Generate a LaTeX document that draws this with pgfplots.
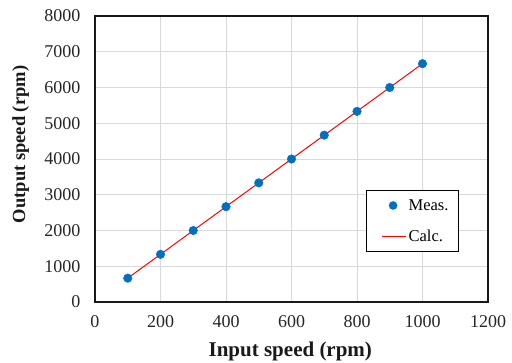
\documentclass[border=0pt]{standalone}
\usepackage{pgfplots}
\pgfplotsset{compat=1.18}
\usepackage{fontspec}
\setmainfont{Liberation Serif}
\definecolor{mblue}{RGB}{0,112,192}
\begin{document}
\begin{tikzpicture}
\begin{axis}[
  scale only axis,
  width=393bp, height=286bp,
  xmin=0, xmax=1200, ymin=0, ymax=8000,
  xtick={0,200,...,1200}, ytick={0,1000,...,8000},
  grid=major,
  grid style={draw=black!15, line width=0.7pt},
  axis line style={line width=1.3pt, black!90},
  tick style={draw=none},
  /pgf/number format/assume math mode=true,
  /pgf/number format/1000 sep={},
  ticklabel style={font=\fontsize{18bp}{20bp}\selectfont, text=black!85},
  xticklabel style={yshift=-10bp},
  yticklabel style={xshift=-11bp},
  xlabel={\textbf{Input speed (rpm)}},
  ylabel={\textbf{Output speed (rpm)}},
  label style={text=black!90},
  xlabel style={font=\fontsize{21bp}{24bp}\selectfont, at={(rel axis cs:0.497,-0.1923)}, anchor=base},
  ylabel style={font=\fontsize{18.5bp}{22bp}\selectfont, at={(rel axis cs:-0.178,0.551)}, anchor=base},
  legend style={at={(rel axis cs:0.926,0.392)}, anchor=north east, draw=black, line width=0.9pt,
    font=\fontsize{16.5bp}{18bp}\selectfont, row sep=14bp, inner xsep=8bp, inner ysep=7bp,
    fill=white},
  legend cell align=left,
]
\addplot[only marks, mark=*, mark size=4.3bp, color=mblue,
  legend image code/.code={\path (-7bp,0); \fill[fill=mblue, draw=none] (11bp,0) circle (4.3bp); \path (24bp,0);}] coordinates {
(100,667) (200,1333) (300,2000) (400,2667) (500,3333) (600,4000) (700,4667) (800,5333) (900,6000) (1000,6667)};
\addlegendentry{Meas.}
\addplot[red, line width=1pt,
  legend image code/.code={\path (-7bp,0); \draw[draw=red, line width=1pt] (0,0) -- (24bp,0);}] coordinates {
(100,667) (200,1333) (300,2000) (400,2667) (500,3333) (600,4000) (700,4667) (800,5333) (900,6000) (1000,6667)};
\addlegendentry{Calc.}
\end{axis}
\pgfresetboundingbox
\useasboundingbox (-95bp,-61bp) rectangle (417bp,302bp);
\end{tikzpicture}
\end{document}
